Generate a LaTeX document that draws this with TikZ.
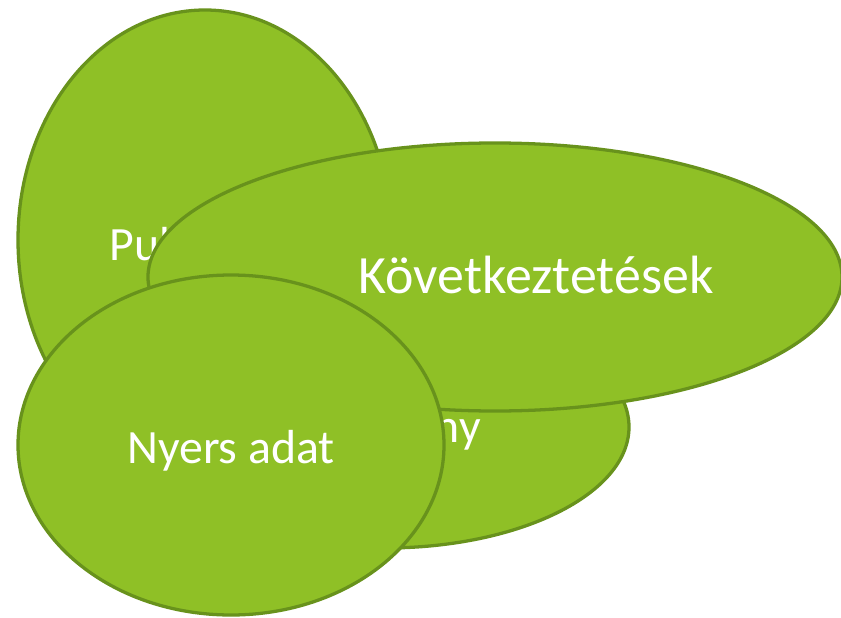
\documentclass[tikz,border=0pt]{standalone}
\usepackage{fontspec}
\setmainfont{Carlito}
\usepackage{xcolor}
\usepackage{tikz}
\usetikzlibrary{shapes.geometric}

\definecolor{leaf}{RGB}{143,192,38}
\definecolor{leafline}{RGB}{104,146,28}

\tikzset{
  blob/.style={fill=leaf, draw=leafline, line width=2.8pt},
  blobtext/.style={text=white, inner sep=0pt, font=\fontsize{40.8}{48}\selectfont},
  bigtext/.style={blobtext, font=\fontsize{46}{55}\selectfont}
}

\begin{document}
\begin{tikzpicture}[x=0.03cm, y=-0.03cm]
			\useasboundingbox (0,0) rectangle (841,618);
			\coordinate (P) at (205,240);
			\coordinate (E) at (385,427);
			\coordinate (K) at (495,277);
			\coordinate (N) at (231,445);
			
			\draw[blob] (P) ellipse (187 and 230);
			\node[blobtext, anchor=base] (ptext) at (208,260) {Publikáció};
			
			\draw[blob] (E) ellipse (244 and 121);
			\node[blobtext, anchor=base east] (etext) at (481,442) {Eredmény};
			
			\draw[blob] (K) ellipse (347 and 134);
			\node[bigtext, anchor=base] (ktext) at (536,293) {Következtetések};
			
			\draw[blob] (N) ellipse (213 and 170);
			\node[blobtext, anchor=base] (ntext) at (231,463) {Nyers adat};
		\end{tikzpicture}
\end{document}
